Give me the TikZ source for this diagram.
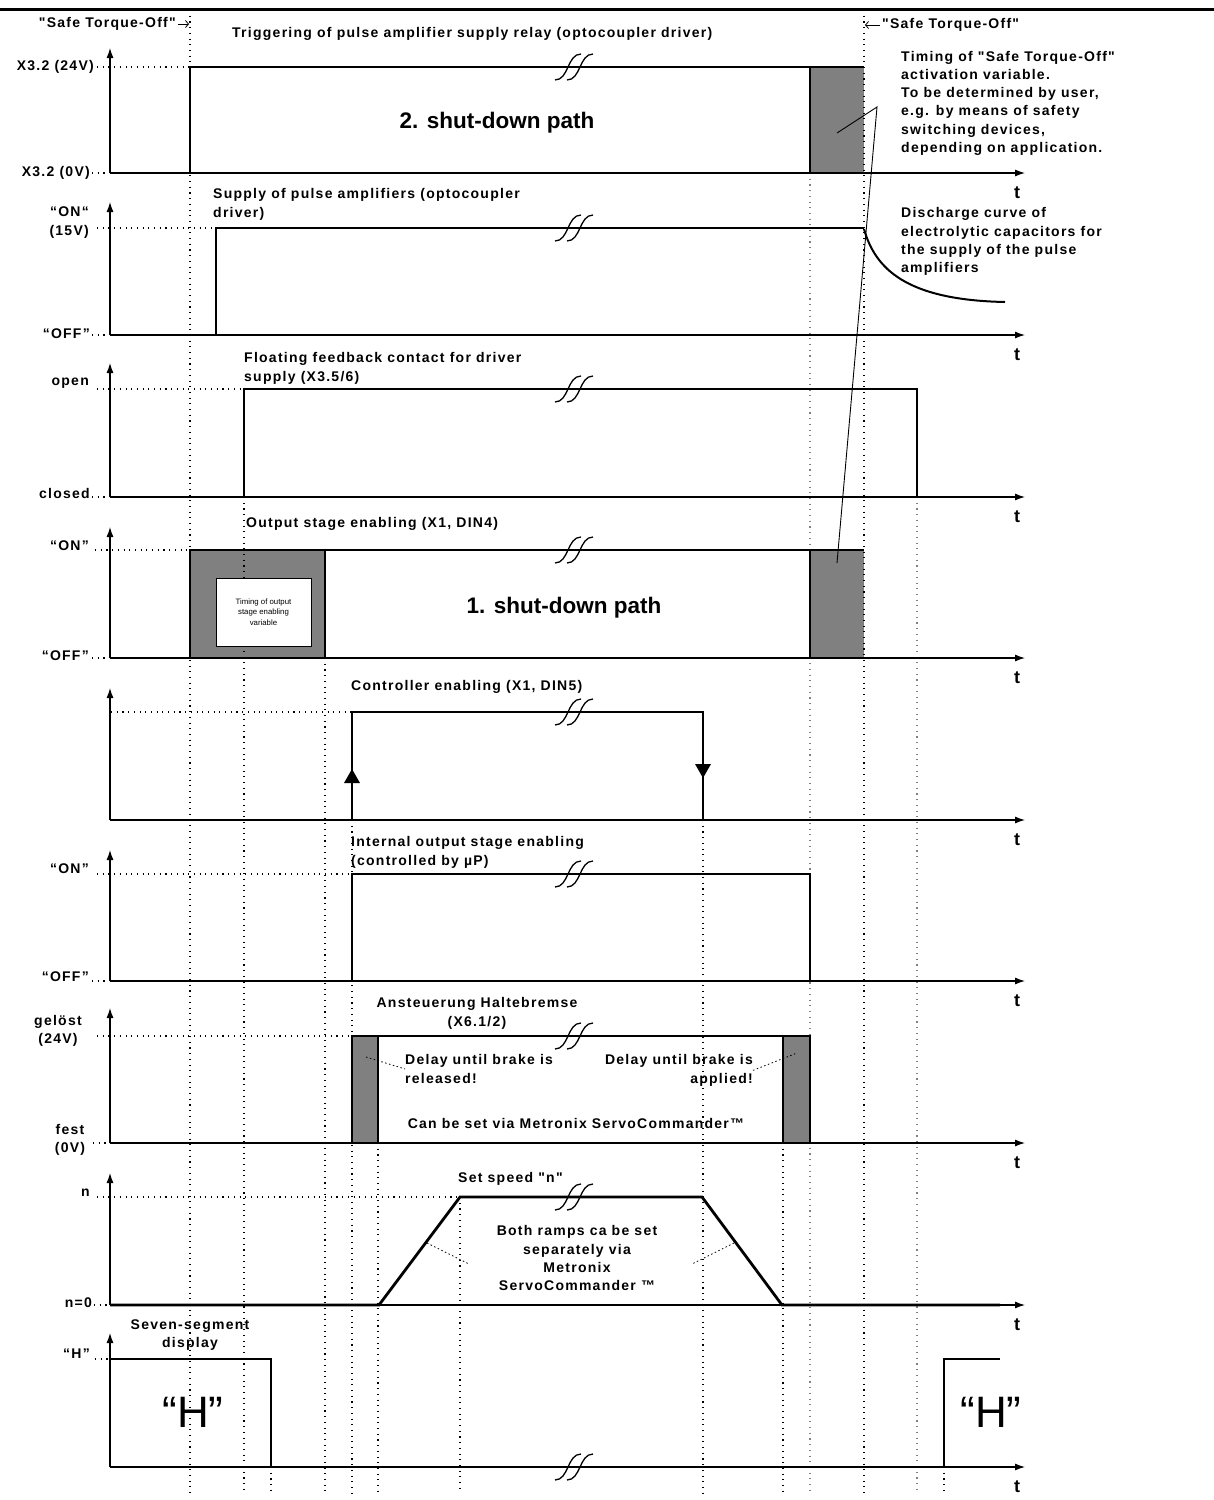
\documentclass[tikz,border=0pt]{standalone}
\usepackage{fontspec}
\setmainfont{Liberation Sans}
\newfontfamily\plainFont{Liberation Sans}
\usetikzlibrary{arrows.meta}
\definecolor{boxGray}{RGB}{128,128,128}
\tikzstyle{timing} = [x = 1pt, y = -1pt]
\tikzstyle{signalLine} = [color=black, line width=2.8pt]
\tikzstyle{axisLine} = [color=black, line width=1.1pt]
\tikzstyle{dotLine} = [color=black, line width=1.1pt, dash pattern=on 1.1pt off 4.6pt]
\tikzstyle{dotLineLight} = [dotLine, color=gray]
\tikzstyle{leaderDots} = [color=black, line width=0.8pt, dash pattern=on 1.5pt off 2.5pt]
\tikzstyle{breakLine} = [color=black, line width=1.3pt]
\tikzstyle{labelText} = [font=\plainFont\bfseries\fontsize{14}{18.2}\selectfont\addfontfeature{LetterSpace=9}, inner sep=0pt]
\tikzstyle{pathText} = [font=\plainFont\bfseries\fontsize{22.5}{27}\selectfont, inner sep=0pt]
\tikzstyle{tText} = [font=\plainFont\bfseries\fontsize{18}{20}\selectfont, inner sep=0pt]
\tikzstyle{bigText} = [font=\plainFont\fontsize{44}{50}\selectfont, inner sep=0pt]
\tikzstyle{tinyText} = [font=\plainFont\fontsize{7.8}{10.5}\selectfont, inner sep=0pt, align=center]
\newcommand{\timeAxis}[3]{
  \draw [axisLine, -{Latex[length=10pt, width=7pt]}] (110, #2) -- (110, #3);
  \draw [axisLine, -{Latex[length=10pt, width=7pt]}] (110, #2) -- (1025, #2);
  \node [tText] (t#1) at (1017, #2 + 20) {t};
}
\newcommand{\levelDots}[3]{\draw [dotLine] (#1, #3) -- (#2, #3);}
\newcommand{\timeMarker}[3]{\draw [dotLine] (#1, #2) -- (#1, #3);}
\newcommand{\breakMark}[2]{
  \draw [breakLine] (#1 - 19, #2 + 13) .. controls (#1 - 5, #2 + 13) and (#1 - 7, #2 - 13) .. (#1 + 7, #2 - 13);
  \draw [breakLine] (#1 - 7, #2 + 13) .. controls (#1 + 7, #2 + 13) and (#1 + 5, #2 - 13) .. (#1 + 19, #2 - 13);
}

\begin{document}
\begin{tikzpicture}[timing]
  \useasboundingbox (0,0) rectangle (1214,1500);
  \fill [white] (0,0) rectangle (1214,1500);
  \draw [line width=3pt] (0,9) -- (1214,9);

  % gray transition boxes
  \fill [boxGray] (810,67) rectangle (864,173);
  \fill [boxGray] (190,550) rectangle (325,658);
  \fill [boxGray] (810,550) rectangle (864,658);
  \fill [boxGray] (352,1036) rectangle (378,1143);
  \fill [boxGray] (783,1036) rectangle (810,1143);

  % time markers
  \foreach \x/\from in {190/10, 244/497, 271/1467, 325/658, 352/820, 378/1143, 460/1197, 703/820, 783/1143, 864/10, 944/1467} {
    \timeMarker{\x}{\from}{1493}
  }
  \foreach \x/\from in {810/173, 917/497} {
    \draw [dotLineLight] (\x, \from) -- (\x, 1493);
  }

  % axes
  \timeAxis{a}{173}{48}
  \timeAxis{b}{335}{202}
  \timeAxis{c}{497}{363}
  \timeAxis{d}{658}{527}
  \timeAxis{e}{820}{688}
  \timeAxis{f}{981}{850}
  \timeAxis{g}{1143}{1008}
  \timeAxis{h}{1305}{1173}
  \timeAxis{i}{1467}{1333}

  % level dots
  \levelDots{97}{190}{67}    \levelDots{92}{108}{173}
  \levelDots{97}{216}{228}   \levelDots{92}{108}{335}
  \levelDots{97}{244}{389}   \levelDots{92}{108}{497}
  \levelDots{95}{190}{550}   \levelDots{92}{108}{658}
  \levelDots{111}{352}{712}
  \levelDots{97}{352}{874}   \levelDots{92}{108}{981}
  \levelDots{97}{352}{1036}  \levelDots{93}{108}{1143}
  \levelDots{97}{460}{1197}  \levelDots{94}{108}{1305}
  \levelDots{95}{108}{1359}

  \node [draw, fill=white, line width=0.8pt, tinyText, minimum width=95pt, minimum height=68pt] (timingBox) at (263.5,612) {Timing of output\\stage enabling\\variable};

  % signals
  \draw [signalLine] (110,173) -- (190,173) -- (190,67) -- (864,67);
  \draw [signalLine] (810,67) -- (810,173) -- (1000,173);

  \draw [signalLine] (110,335) -- (216,335) -- (216,228) -- (864,228);
  \draw [line width=2pt] (864,229) .. controls (875,268) and (905,300) .. (1005,302);

  \draw [signalLine] (110,497) -- (244,497) -- (244,389) -- (917,389) -- (917,497) -- (1000,497);

  \draw [signalLine] (110,658) -- (325,658) -- (325,550);
  \draw [signalLine] (190,658) -- (190,550) -- (864,550);
  \draw [signalLine] (810,550) -- (810,658) -- (1000,658);

  \draw [signalLine] (110,820) -- (352,820) -- (352,712) -- (703,712) -- (703,820) -- (1000,820);
  \fill (344,783) -- (360,783) -- (352,769) -- cycle;
  \fill (695,764) -- (711,764) -- (703,778) -- cycle;

  \draw [signalLine] (110,981) -- (352,981) -- (352,874) -- (810,874) -- (810,981) -- (1000,981);

  \draw [signalLine] (110,1143) -- (378,1143) -- (378,1036);
  \draw [signalLine] (352,1143) -- (352,1036) -- (810,1036) -- (810,1143) -- (1000,1143);
  \draw [signalLine] (783,1036) -- (783,1143) -- (810,1143);

  \draw [signalLine] (110,1305) -- (379,1305) -- (460,1197) -- (702,1197) -- (782,1305) -- (1000,1305);

  \draw [line width=2.2pt] (110,1359) -- (271,1359) -- (271,1467);
  \draw [signalLine] (271,1467) -- (944,1467);
  \draw [line width=2.2pt] (944,1467) -- (944,1359) -- (1000,1359);

  \foreach \y in {67, 228, 389, 550, 712, 874, 1036, 1197, 1467} {
    \breakMark{574}{\y}
  }

  % level labels
  \node [labelText, anchor=east] (highA) at (94,67) {X3.2 (24V)};
  \node [labelText, anchor=east] (lowA) at (90,173) {X3.2 (0V)};
  \node [labelText, anchor=east, align=right] (highB) at (89,222.5) {“ON“\\(15V)};
  \node [labelText, anchor=east] (lowB) at (90,334) {“OFF”};
  \node [labelText, anchor=east] (highC) at (89,383) {open};
  \node [labelText, anchor=east] (lowC) at (90,493) {closed};
  \node [labelText, anchor=east] (highD) at (89,546) {“ON”};
  \node [labelText, anchor=east] (lowD) at (89,656) {“OFF”};
  \node [labelText, anchor=east] (highF) at (89,869) {“ON”};
  \node [labelText, anchor=east] (lowF) at (89,977) {“OFF”};
  \node [labelText, align=center] (highG) at (58,1031) {gelöst\\(24V)};
  \node [labelText, align=center] (lowG) at (70,1139.5) {fest\\(0V)};
  \node [labelText, anchor=east] (highH) at (90,1193) {n};
  \node [labelText, anchor=east] (lowH) at (92,1303) {n=0};
  \node [labelText, anchor=east] (highI) at (90,1354) {“H”};

  % safe torque-off markers
  \node [labelText, anchor=east] (stoLeft) at (176,24) {"Safe Torque-Off"};
  \coordinate (stoLeftTip) at (189,24);
  \draw [line width=0.8pt, -{Straight Barb[length=3pt, width=7pt]}] ([xshift=2pt]stoLeft.east) -- (stoLeftTip);
  \node [labelText, anchor=west] (stoRight) at (882,25) {"Safe Torque-Off"};
  \coordinate (stoRightTip) at (865,25);
  \draw [line width=0.8pt, -{Straight Barb[length=3pt, width=7pt]}] ([xshift=-2pt]stoRight.west) -- (stoRightTip);

  \node [labelText, anchor=north west, align=left] (stoNote) at (901,51) {Timing of "Safe Torque-Off"\\activation variable.\\To be determined by user,\\e.g. by means of safety\\switching devices,\\depending on application.};
  \coordinate (stoApex) at (877,107);
  \coordinate (boxTopMark) at (837,133);
  \coordinate (boxBottomMark) at (837,563);
  \draw [line width=0.9pt] (boxTopMark) -- (stoApex) -- (boxBottomMark);

  \node [labelText, anchor=north west, align=left] (dischargeNote) at (901,207.5) {Discharge curve of\\electrolytic capacitors for\\the supply of the pulse\\amplifiers};

  % titles
  \node [labelText, anchor=west] (trigTitle) at (232,34) {Triggering of pulse amplifier supply relay (optocoupler driver)};
  \node [pathText] (secondPath) at (497,123) {2. shut-down path};
  \node [labelText, anchor=north west, align=left] (supplyTitle) at (213,188.5) {Supply of pulse amplifiers (optocoupler\\driver)};
  \node [labelText, anchor=north west, align=left] (feedbackTitle) at (244,352.5) {Floating feedback contact for driver\\supply (X3.5/6)};
  \node [labelText, anchor=west] (enableTitle) at (246,524) {Output stage enabling (X1, DIN4)};
  \node [pathText] (firstPath) at (564,608) {1. shut-down path};
  \node [labelText, anchor=west] (controllerTitle) at (351,687) {Controller enabling (X1, DIN5)};
  \node [labelText, anchor=north west, align=left] (internalTitle) at (351,836.5) {Internal output stage enabling\\(controlled by µP)};
  \node [labelText, anchor=north, align=center] (brakeTitle) at (477,997.5) {Ansteuerung Haltebremse\\(X6.1/2)};
  \node [labelText, anchor=north west, align=left] (releaseNote) at (405,1054.5) {Delay until brake is\\released!};
  \node [labelText, anchor=north east, align=right] (applyNote) at (753,1054.5) {Delay until brake is\\applied!};
  \node [labelText] (servoNote) at (576,1123) {Can be set via Metronix ServoCommander™};
  \node [labelText, anchor=west] (speedTitle) at (458,1179) {Set speed "n"};
  \node [labelText, anchor=north, align=center] (rampNote) at (577,1225.5) {Both ramps ca be set\\separately via\\Metronix\\ServoCommander ™};
  \node [labelText, anchor=north, align=center] (displayTitle) at (190,1319.5) {Seven-segment\\display};
  \node [bigText] (hLeft) at (193,1412) {“H”};
  \node [bigText] (hRight) at (991,1412) {“H”};

  % dotted leaders
  \coordinate (releaseMark) at (366,1057);
  \draw [leaderDots] (releaseMark) -- (releaseNote.west);
  \coordinate (applyMark) at (797,1053);
  \draw [leaderDots] (applyNote.east) -- (applyMark);
  \coordinate (rampUpMark) at (427,1243);
  \coordinate (rampUpEnd) at (469,1264);
  \draw [leaderDots] (rampUpMark) -- (rampUpEnd);
  \coordinate (rampDownMark) at (734,1243);
  \coordinate (rampDownEnd) at (692,1264);
  \draw [leaderDots] (rampDownMark) -- (rampDownEnd);
\end{tikzpicture}
\end{document}
